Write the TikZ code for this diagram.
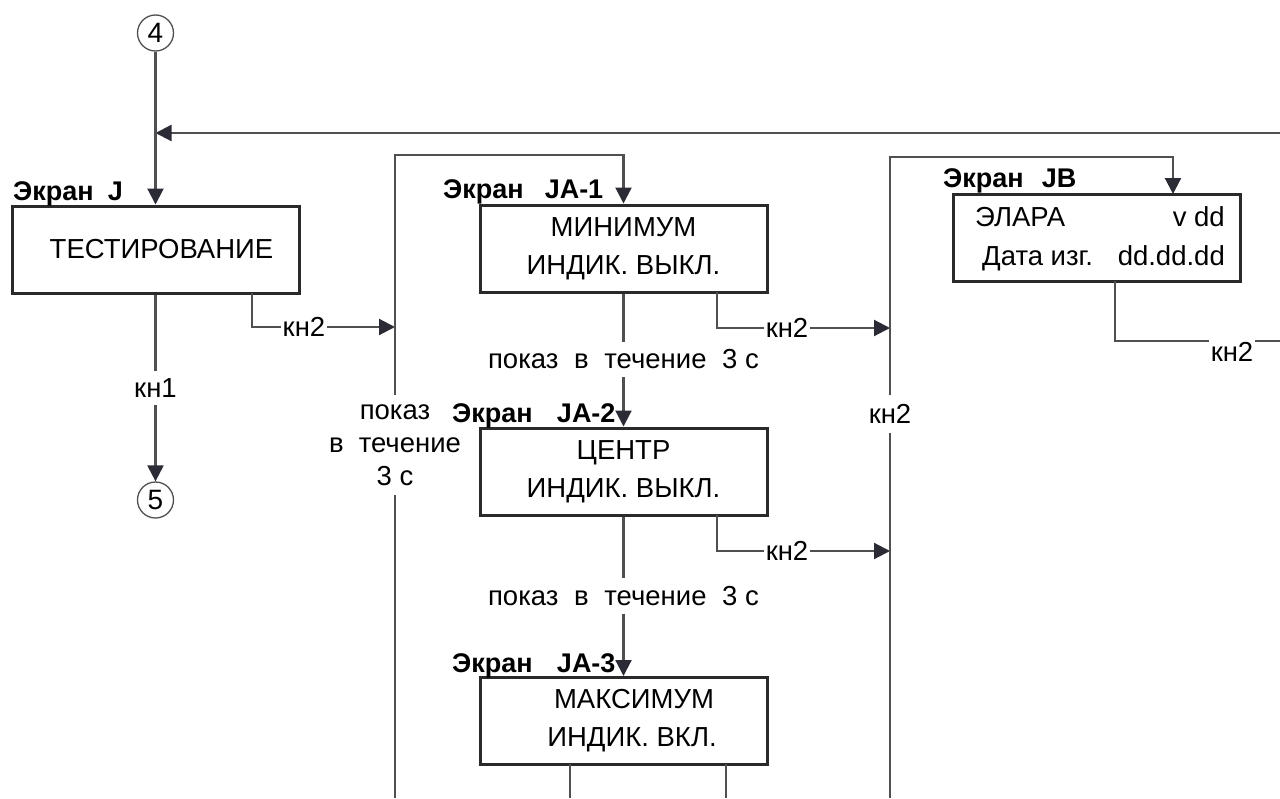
\documentclass[tikz,border=0pt]{standalone}
\usepackage{fontspec}
\setmainfont{Liberation Sans}
\usetikzlibrary{arrows.meta}
\definecolor{ln}{HTML}{505050}
\definecolor{bx}{HTML}{2A2A2A}
\definecolor{ah}{HTML}{2B2B35}
\tikzset{
  line/.style={draw=ln, line width=2.2pt},
  arr/.style={line, -{Triangle[length=16pt,width=16pt,color=ah]}},
  box/.style={draw=bx, line width=3pt, minimum width=287pt, minimum height=87pt, align=center, inner sep=0pt, font=\fontsize{27.5}{38}\selectfont},
  lbl/.style={font=\bfseries\fontsize{27}{30}\selectfont, inner sep=0pt, anchor=base west},
  txt/.style={font=\fontsize{27.5}{33}\selectfont, inner sep=0pt, align=center},
  inb/.style={font=\fontsize{27.5}{30}\selectfont, inner sep=0pt},
  circ/.style={circle, draw=ln, line width=1.3pt, minimum size=36pt, inner sep=0pt, font=\fontsize{28}{28}\selectfont}
}
\begin{document}
\begin{tikzpicture}[x=1pt,y=-1pt]
\useasboundingbox (0,0) rectangle (1280,798);
% circles
\node[circ] (c4) at (155.5,33) {4};
\node[circ] (c5) at (155.5,500) {5};
% boxes
\node[box] (J) at (155.5,249.5) {\hspace*{12pt}ТЕСТИРОВАНИЕ};
\node[box] (A1) at (623.5,248.5) {МИНИМУМ\\ИНДИК. ВЫКЛ.};
\node[box] (A2) at (623.5,471.5) {ЦЕНТР\\ИНДИК. ВЫКЛ.};
\node[box] (A3) at (623.5,721) {\hspace*{21pt}МАКСИМУМ\\\hspace*{17pt}ИНДИК. ВКЛ.};
\node[box] (JB) at (1096.5,237.5) {};
\node[inb, anchor=base west] (jb1) at (975,226) {ЭЛАРА};
\node[inb, anchor=base east] (jb2) at (1225,226) {v dd};
\node[inb, anchor=base west] (jb3) at (982,265) {Дата изг.};
\node[inb, anchor=base east] (jb4) at (1225,265) {dd.dd.dd};
% bold labels
\node[lbl] (lJ) at (13,200) {Экран\hspace{0.53em}J};
\node[lbl] (lA1) at (443,198) {Экран\hspace{0.78em}JA-1};
\node[lbl] (lA2) at (452,422) {Экран\hspace{0.9em}JA-2};
\node[lbl] (lA3) at (452,672) {Экран\hspace{0.9em}JA-3};
\node[lbl] (lB) at (943,187) {Экран\hspace{0.67em}JB};
% text labels on connectors
\node[txt, minimum height=33pt] (kn1) at (155.5,388) {кн1};
\node[txt, minimum height=35pt] (s1) at (623.5,359.5) {показ\hspace{0.57em}в\hspace{0.57em}течение\hspace{0.57em}3 с};
\node[txt, minimum height=35pt] (s2) at (623.5,596) {показ\hspace{0.57em}в\hspace{0.57em}течение\hspace{0.57em}3 с};
\node[txt, minimum height=100pt] (kL) at (395,445) {показ\\в\hspace{0.55em}течение\\3 с};
\node[txt, inner xsep=2pt] (kJ) at (304,327) {кн2};
\node[txt, inner xsep=2pt] (kA1) at (787,328) {кн2};
\node[txt, inner xsep=2pt] (kA2) at (787,551) {кн2};
\node[txt, minimum height=37pt] (kR) at (890,414) {кн2};
\node[txt, inner xsep=2pt] (kB) at (1232,352) {кн2};
% coordinates
\coordinate (Rin) at (1280,133);
\coordinate (Jtop) at (155.5,133);
\coordinate (Ltop) at (395,155);
\coordinate (Lbot) at (395,798);
\coordinate (Rtop) at (890,157);
\coordinate (Rbot) at (890,798);
\coordinate (JBin) at (1173,194);
\coordinate (Jk) at (252,293);
\coordinate (A1k) at (717,292);
\coordinate (A2k) at (717,515);
\coordinate (Bk) at (1115,281);
\coordinate (Bc) at (1115,341);
\coordinate (Be) at (1280,341);
\coordinate (A3a) at (570,764);
\coordinate (A3ab) at (570,798);
\coordinate (A3b) at (726,764);
\coordinate (A3bb) at (726,798);
% connectors
\draw[arr] (Rin) -- (Jtop);
\draw[arr] (c4) -- (J.north);
\draw[line] (J.south) -- (kn1.north);
\draw[arr] (kn1.south) -- (c5.north);
\draw[line] (Jk) |- (kJ.west);
\draw[arr] (kJ.east) -- (kJ.east -| Ltop);
\draw[arr] (kL.north) -- (Ltop) -| (A1.north);
\draw[line] (kL.south) -- (Lbot);
\draw[line] (A1.south) -- (s1.north);
\draw[arr] (s1.south) -- (A2.north);
\draw[line] (A2.south) -- (s2.north);
\draw[arr] (s2.south) -- (A3.north);
\draw[line] (A1k) |- (kA1.west);
\draw[arr] (kA1.east) -- (kA1.east -| Rtop);
\draw[line] (A2k) |- (kA2.west);
\draw[arr] (kA2.east) -- (kA2.east -| Rtop);
\draw[arr] (kR.north) -- (Rtop) -| (JBin);
\draw[line] (kR.south) -- (Rbot);
\draw[line] (Bk) -- (Bc) -- (kB.west |- Bc);
\draw[line] (kB.east |- Bc) -- (Be);
\draw[line] (A3a) -- (A3ab);
\draw[line] (A3b) -- (A3bb);
\end{tikzpicture}
\end{document}
